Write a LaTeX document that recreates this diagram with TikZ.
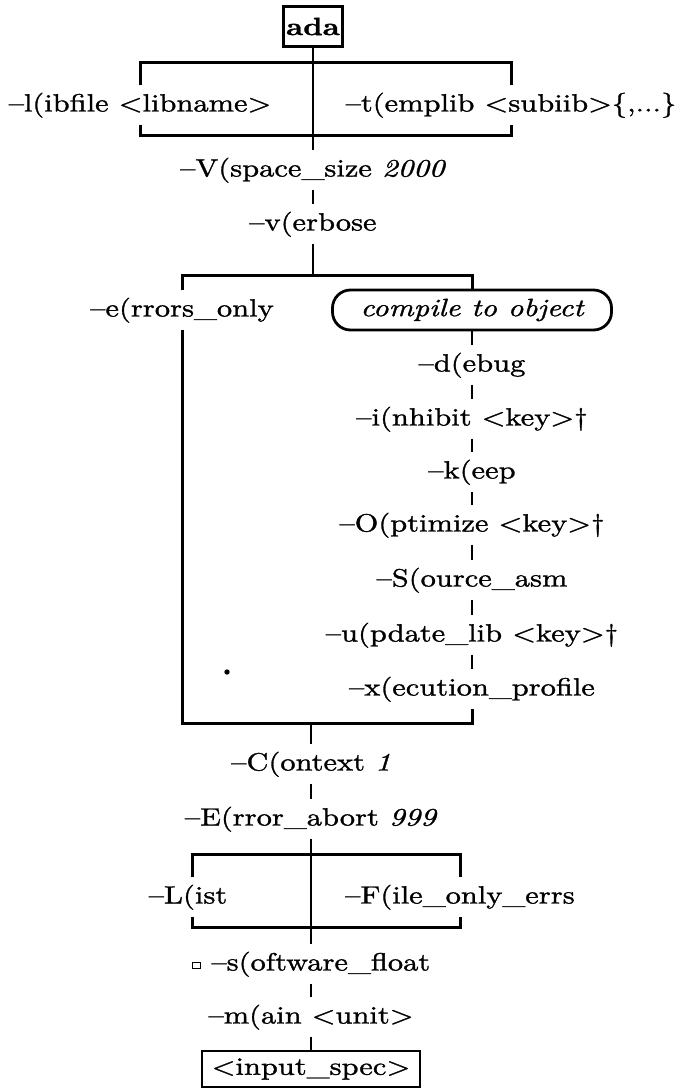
\documentclass[tikz,border=0pt]{standalone}
\usepackage{fontspec}
\setmainfont{lmroman10-regular.otf}[BoldFont=lmroman10-bold.otf,ItalicFont=lmroman10-italic.otf,BoldItalicFont=lmroman10-bolditalic.otf,FakeStretch=1.22,FakeBold=1.2]
\newcommand\sqbox{\raisebox{3pt}{\setlength\fboxrule{1.5pt}\setlength\fboxsep{0pt}\fbox{\rule{0pt}{4.5pt}\hspace{6.5pt}}}}
\tikzset{
  lab/.style={font=\fontsize{25}{30}\selectfont, text height=19pt, text depth=6pt, inner xsep=2pt, inner ysep=7pt},
  spine/.style={line width=1.8pt},
  brk/.style={line width=3pt, line join=miter},
  boxed/.style={draw, line width=2.8pt},
}
\begin{document}
\begin{tikzpicture}[x=1pt,y=-1pt]
\useasboundingbox (0,0) rectangle (675,1089);
% top
\node[boxed, font=\fontsize{25}{30}\selectfont\bfseries, minimum width=59pt, minimum height=40pt, inner sep=0pt] (ada) at (313,26.5) {ada};
\node[lab] (l) at (140,105) {--l(ibfile <libname>};
\node[lab] (r) at (511,105) {--t(emplib <subiib>\{,...\}};
\coordinate (b1t) at (313,63);
\coordinate (b1b) at (313,136);
\draw[brk] (l.north) |- (b1t) -| (r.north);
\draw[brk] (l.south) |- (b1b) -| (r.south);
\node[lab] (V) at (313,170) {--V(space\_size \textit{2000}};
\draw[spine] (ada.south) -- (V.north);
\node[lab] (v) at (313,224) {--v(erbose};
\draw[spine] (V) -- (v);
% compile bracket
\coordinate (b2t) at (313,275);
\draw[spine] (v.south) -- (b2t);
\node[lab] (e) at (182,310) {--e(rrors\_only};
\node[boxed, rounded corners=18pt, minimum width=279pt, minimum height=40pt, inner sep=0pt, font=\fontsize{25}{30}\selectfont\itshape] (cto) at (472,310) {compile to object};
\draw[brk] (e.north) |- (b2t) -| (cto.north);
\node[lab] (d) at (472,365) {--d(ebug};
\node[lab] (i) at (472,419) {--i(nhibit <key>\textdagger};
\node[lab] (k) at (472,472) {--k(eep};
\node[lab] (O) at (472,525) {--O(ptimize <key>\textdagger};
\node[lab] (S) at (472,580) {--S(ource\_asm};
\node[lab] (u) at (472,635) {--u(pdate\_lib <key>\textdagger};
\node[lab] (x) at (472,689) {--x(ecution\_profile};
\foreach \a/\b in {cto/d,d/i,i/k,k/O,O/S,S/u,u/x} \draw[spine] (\a) -- (\b);
\coordinate (b2b) at (311,723);
\draw[brk] (e.south) |- (b2b) -| (x.south);
\fill (227,672) circle (2.7pt);
% lower part
\node[lab] (C) at (311,764) {--C(ontext \textit{1}};
\draw[spine] (b2b) -- (C.north);
\node[lab] (E) at (311,819) {--E(rror\_abort \textit{999}};
\draw[spine] (C) -- (E);
\node[lab] (L) at (188,897) {--L(ist};
\node[lab] (F) at (460,897) {--F(ile\_only\_errs};
\coordinate (b3t) at (311,854);
\coordinate (b3b) at (311,927);
\draw[brk] (L.north -| 192,0) |- (b3t) -| (F.north);
\draw[brk] (L.south -| 192,0) |- (b3b) -| (F.south);
\node[lab] (s) at (311,964) {\sqbox\ --s(oftware\_float};
\draw[spine] (E) -- (s);
\node[lab] (m) at (311,1017) {--m(ain <unit>};
\draw[spine] (s) -- (m);
\node[boxed, inner sep=0pt, minimum width=218pt, minimum height=36pt, font=\fontsize{25}{30}\selectfont] (in) at (311,1069) {<input\_spec>};
\draw[spine] (m) -- (in);
\end{tikzpicture}
\end{document}
